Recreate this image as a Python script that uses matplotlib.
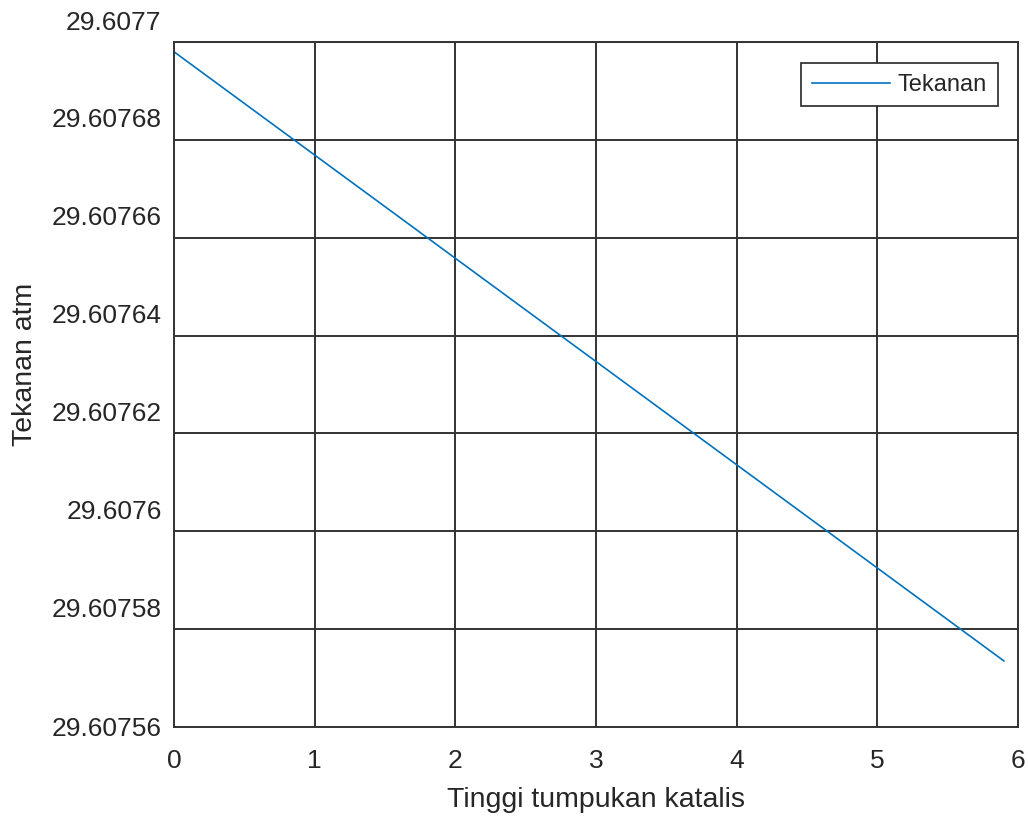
import matplotlib
matplotlib.use('Agg')
import matplotlib.pyplot as plt
import matplotlib.transforms as mtransforms

# data
tinggi = [0.0, 5.9]
tekanan = [29.607698, 29.6075735]

xticks = [0, 1, 2, 3, 4, 5, 6]
yticks = [29.60756, 29.60758, 29.6076, 29.60762, 29.60764, 29.60766, 29.60768, 29.6077]
ylabels = ['29.60756', '29.60758', '29.6076', '29.60762', '29.60764', '29.60766', '29.60768', '29.6077']

plt.rcParams['font.family'] = ['Liberation Sans', 'DejaVu Sans']
txt = '#262626'

fig = plt.figure(figsize=(10.28, 8.17), dpi=100)
ax = fig.add_axes([174/1028, 90/817, 844/1028, 685/817])

ax.plot(tinggi, tekanan, color='#0072BD', lw=1.2, label='Tekanan')

ax.set_xlim(0, 6)
ax.set_ylim(29.60756, 29.6077)
ax.set_xticks(xticks)
ax.set_xticklabels([str(t) for t in xticks])
ax.set_yticks(yticks)
ax.set_yticklabels(ylabels)
ax.tick_params(axis='both', length=0, labelsize=19, labelcolor=txt)
ax.tick_params(axis='y', pad=9)
ax.tick_params(axis='x', pad=16)

ax.grid(True, color='#333333', lw=1.4, ls='-')
ax.set_axisbelow(True)
for s in ax.spines.values():
    s.set_color('#333333')
    s.set_linewidth(1.4)

# tick labels sit a bit above their grid lines in the original
off = mtransforms.ScaledTranslation(0, 22/100, fig.dpi_scale_trans)
for lab in ax.get_yticklabels()[1:]:
    lab.set_transform(lab.get_transform() + off)

ax.set_xlabel('Tinggi tumpukan katalis', fontsize=20.5, color=txt)
ax.set_ylabel('Tekanan atm', fontsize=20.5, color=txt)
ax.xaxis.set_label_coords(0.5, -0.088)
ax.yaxis.set_label_coords(-0.161, 0.53)

leg = ax.legend(loc='upper right', bbox_to_anchor=(0.976, 0.969), borderaxespad=0,
                fontsize=17, fancybox=False, framealpha=1, edgecolor='#262626',
                handlelength=3.3, borderpad=0.45, handletextpad=0.35)
leg.get_frame().set_linewidth(1.2)
for t in leg.get_texts():
    t.set_color(txt)

fig.savefig('out.png', dpi=100)
